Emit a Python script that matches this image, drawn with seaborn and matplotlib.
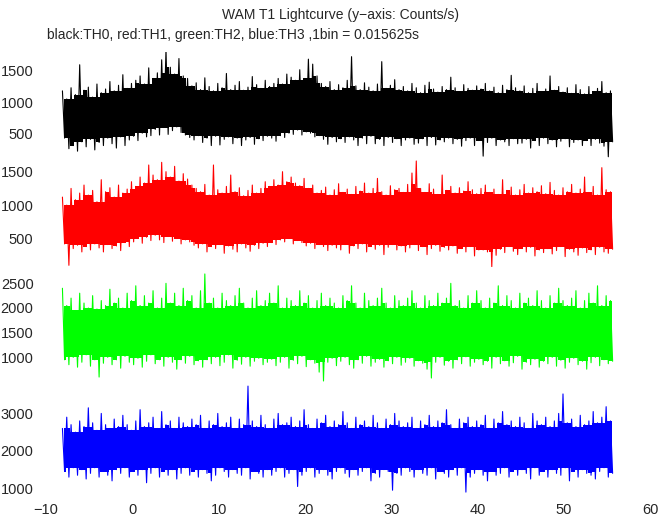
"""
WAM T1 lightcurve: four energy channels (TH0..TH3) stacked on a shared time axis.

Each channel is stored as an upper and a lower envelope on 0.5 s bins
(max/min of the raw 1/64 s samples). The envelope is drawn as a zig-zag
line over a filled core, which at this scale looks like the dense raw lightcurve.
"""

import numpy as np
import pandas as pd
import matplotlib
matplotlib.use("Agg")
import matplotlib.pyplot as plt
import seaborn as sns

# ── Data ──────────────────────────────────────────────────────────────────────

T_START = -8.1     # s, first bin
BIN_WIDTH = 0.5    # s, envelope bin

TH0_HIGH = [
    1180, 1050, 1230, 1120, 1600, 1190, 1240, 1080, 1290, 1150, 1210, 1330, 1180, 1270, 1440, 1220,
    1300, 1350, 1420, 1290, 1550, 1380, 1470, 1680, 1840, 1560, 1450, 1700, 1420, 1380, 1260, 1310,
    1200, 1390, 1250, 1180, 1300, 1230, 1460, 1200, 1270, 1330, 1190, 1240, 1410, 1280, 1220, 1350,
    1250, 1300, 1380, 1290, 1450, 1400, 1350, 1520, 1380, 1690, 1610, 1420, 1300, 1250, 1330, 1200,
    1280, 1230, 1350, 1730, 1260, 1200, 1310, 1240, 1180, 1290, 1650, 1220, 1270, 1360, 1200, 1250,
    1180, 1300, 1230, 1150, 1270, 1320, 1210, 1160, 1250, 1200, 1400, 1230, 1170, 1280, 1220, 1190,
    1260, 1210, 1300, 1180, 1240, 1150, 1270, 1200, 1430, 1230, 1180, 1260, 1150, 1220, 1300, 1170,
    1210, 1420, 1190, 1250, 1160, 1230, 1140, 1280, 1200, 1130, 1250, 1170, 1220, 1330, 1150, 1180,
]
TH0_LOW = [
    420, 250, 300, 210, 360, 280, 400, 230, 350, 300, 420, 330, 260, 440, 300, 390,
    450, 380, 500, 440, 460, 560, 470, 590, 480, 540, 600, 510, 470, 430, 390, 460,
    350, 420, 300, 450, 310, 400, 440, 330, 420, 300, 390, 430, 320, 410, 380, 450,
    420, 370, 460, 430, 500, 480, 550, 470, 520, 500, 440, 460, 400, 320, 430, 360,
    410, 350, 440, 390, 300, 420, 330, 450, 330, 400, 300, 430, 350, 410, 300, 390,
    420, 320, 340, 410, 300, 430, 310, 390, 360, 420, 330, 400, 290, 380, 420, 300,
    380, 130, 350, 420, 300, 390, 360, 300, 410, 330, 340, 400, 260, 380, 300, 420,
    330, 390, 280, 370, 410, 280, 350, 390, 300, 380, 300, 400, 340, 290, 120, 360,
]

TH1_HIGH = [
    1120, 1000, 1250, 1080, 1180, 1300, 1150, 1220, 1050, 1380, 1200, 1260, 1120, 1300, 1180, 1240,
    1350, 1280, 1420, 1330, 1600, 1450, 1380, 1640, 1500, 1420, 1580, 1360, 1470, 1390, 1300, 1250,
    1200, 1310, 1150, 1600, 1230, 1180, 1280, 1450, 1200, 1260, 1140, 1220, 1300, 1180, 1250, 1350,
    1280, 1380, 1300, 1500, 1350, 1420, 1330, 1290, 1400, 1250, 1300, 1180, 1220, 1270, 1150, 1230,
    1320, 1190, 1240, 1160, 1280, 1210, 1330, 1180, 1250, 1400, 1200, 1150, 1290, 1230, 1250, 1190,
    1310, 1480, 1660, 1250, 1190, 1320, 1240, 1160, 1450, 1220, 1280, 1180, 1260, 1210, 1350, 1230,
    1170, 1250, 1300, 1190, 1240, 1160, 1380, 1220, 1270, 1150, 1230, 1310, 1180, 1260, 1200, 1290,
    1170, 1340, 1220, 1150, 1260, 1200, 1310, 1180, 1240, 1420, 1190, 1280, 1150, 1560, 1230, 1200,
]
TH1_LOW = [
    420, 100, 350, 400, 300, 380, 330, 420, 360, 300, 410, 350, 390, 320, 440, 380,
    450, 500, 430, 520, 470, 550, 480, 440, 530, 460, 500, 420, 480, 450, 400, 360,
    420, 300, 380, 350, 410, 280, 390, 340, 300, 420, 360, 310, 400, 350, 430, 380,
    440, 410, 480, 450, 500, 420, 470, 440, 390, 430, 350, 410, 380, 320, 400, 360,
    330, 410, 280, 390, 350, 420, 300, 380, 340, 400, 260, 370, 410, 330, 390, 300,
    360, 410, 320, 380, 260, 350, 400, 310, 370, 330, 390, 280, 350, 300, 380, 240,
    330, 330, 300, 80, 250, 340, 290, 380, 310, 260, 350, 300, 370, 240, 330, 290,
    350, 270, 320, 380, 230, 340, 300, 250, 360, 290, 330, 260, 370, 300, 280, 340,
]

TH2_HIGH = [
    2400, 2050, 2200, 1950, 2300, 2100, 2000, 2250, 1980, 2150, 2050, 2380, 2100, 2200, 2000, 2300,
    2150, 2450, 2050, 2250, 2100, 2350, 2000, 2200, 2500, 2100, 2300, 2050, 2400, 2150, 2250, 2000,
    2350, 2690, 2100, 2200, 2000, 2300, 2150, 2050, 2250, 2400, 2100, 2000, 2200, 2350, 2050, 2150,
    2300, 2100, 2450, 2000, 2200, 2150, 2050, 2350, 2100, 2250, 2000, 2150, 2300, 2050, 2200, 2100,
    2000, 2250, 2150, 2450, 2100, 2000, 2300, 2150, 2050, 2200, 2400, 2100, 2000, 2250, 2150, 2050,
    2200, 2350, 2100, 2000, 2250, 2150, 2050, 2300, 2100, 2200, 2500, 2050, 2150, 2000, 2250, 2100,
    2350, 2150, 2000, 2200, 2100, 2450, 2050, 2250, 2150, 2000, 2300, 2100, 2200, 2050, 2350, 2150,
    2000, 2250, 2100, 2400, 2150, 2050, 2200, 2350, 2000, 2150, 2300, 2100, 2450, 2050, 2250, 2150,
]
TH2_LOW = [
    950, 850, 1000, 800, 900, 1050, 820, 950, 600, 880, 1000, 850, 950, 780, 1020, 900,
    850, 980, 800, 920, 1050, 870, 950, 820, 1000, 900, 760, 950, 880, 1020, 850, 930,
    800, 950, 870, 1000, 830, 900, 1050, 780, 940, 860, 1000, 820, 920, 980, 850, 900,
    960, 830, 900, 1000, 780, 940, 870, 1020, 810, 950, 880, 700, 520, 900, 980, 830,
    920, 1000, 850, 780, 950, 880, 1020, 820, 900, 960, 800, 930, 870, 1000, 840, 900,
    980, 820, 930, 880, 760, 580, 900, 1000, 840, 920, 780, 950, 870, 1010, 820, 900,
    960, 850, 920, 780, 1000, 870, 930, 820, 890, 1020, 760, 900, 850, 960, 800, 920,
    870, 1000, 820, 940, 780, 900, 980, 850, 920, 760, 890, 1000, 830, 950, 870, 920,
]

TH3_HIGH = [
    2600, 2900, 2700, 2500, 2800, 2650, 3150, 2750, 2550, 3000, 2700, 2600, 2850, 2650, 2950, 2700,
    2550, 2800, 3100, 2650, 2750, 2900, 2600, 3050, 2700, 2800, 2600, 2900, 2750, 2650, 2850, 2700,
    2950, 2600, 2800, 2700, 3000, 2650, 2750, 2900, 2600, 2850, 2700, 3730, 2800, 2650, 2950, 2700,
    2600, 2850, 3000, 2700, 2750, 2900, 2650, 2800, 3100, 2700, 2600, 2850, 2750, 2950, 2650, 2800,
    2700, 3050, 2750, 2600, 2900, 2700, 2800, 2650, 2950, 2750, 2600, 2850, 2700, 3000, 2800, 2650,
    2750, 2900, 2600, 2800, 2700, 2950, 2650, 2800, 2750, 3100, 2700, 2600, 2850, 2750, 2900, 2650,
    2800, 2700, 2950, 2600, 2850, 2750, 3050, 2700, 2800, 2650, 2900, 2750, 2600, 3000, 2800, 2700,
    2900, 2650, 2800, 3000, 3520, 2750, 2850, 2650, 2950, 2700, 2800, 3050, 2750, 2900, 3180, 2800,
]
TH3_LOW = [
    1450, 1300, 1550, 1350, 1500, 1250, 1400, 1550, 1300, 1450, 1350, 1200, 1500, 1400, 1550, 1300,
    1450, 1350, 1500, 1150, 1400, 1550, 1300, 1450, 1350, 1500, 1250, 1400, 1550, 1350, 1450, 1300,
    1500, 1400, 1200, 1350, 1550, 1450, 1300, 1500, 1400, 1350, 1550, 1250, 1450, 1400, 1300, 1500,
    1350, 1450, 1550, 1300, 1400, 1500, 1050, 1350, 1450, 1550, 1300, 1400, 1500, 1350, 1250, 1450,
    1550, 1400, 1300, 1500, 1350, 1450, 1550, 1200, 1400, 1300, 1500, 1450, 950, 1400, 1350, 1550,
    1450, 1300, 1500, 1400, 1350, 1550, 1250, 1450, 1400, 1300, 1500, 1350, 1550, 900, 1300, 1400,
    1500, 1350, 1200, 1450, 1350, 1400, 1550, 1300, 1450, 1350, 1500, 1400, 1250, 1550, 1350, 1450,
    1300, 1500, 1400, 1350, 1550, 1200, 1450, 1300, 1500, 1400, 1350, 1250, 1450, 1550, 1300, 1400,
]

CHANNELS = ["TH0", "TH1", "TH2", "TH3"]
ENVELOPES = {
    "TH0": (TH0_HIGH, TH0_LOW),
    "TH1": (TH1_HIGH, TH1_LOW),
    "TH2": (TH2_HIGH, TH2_LOW),
    "TH3": (TH3_HIGH, TH3_LOW),
}
Y_TICKS = {
    "TH0": [500, 1000, 1500],
    "TH1": [500, 1000, 1500],
    "TH2": [1000, 1500, 2000, 2500],
    "TH3": [1000, 2000, 3000],
}
X_TICKS = [-10, 0, 10, 20, 30, 40, 50, 60]

TITLE = "WAM T1 Lightcurve (y\u2212axis: Counts/s)"
SUBTITLE = "black:TH0, red:TH1, green:TH2, blue:TH3 ,1bin = 0.015625s"

# ── Style / layout ────────────────────────────────────────────────────────────

COLORS = {"TH0": "#000000", "TH1": "#ff0000", "TH2": "#00ff00", "TH3": "#0000ff"}
Y_LIMITS = {"TH0": (100, 1805), "TH1": (75, 1690), "TH2": (500, 2750), "TH3": (770, 3760)}
# axes boxes in figure fraction: left, bottom, width, height
PANEL_BOX = {
    "TH0": (0.0685, 0.6932, 0.899, 0.2058),
    "TH1": (0.0685, 0.4816, 0.899, 0.2097),
    "TH2": (0.0685, 0.2583, 0.899, 0.2155),
    "TH3": (0.0685, 0.0350, 0.899, 0.2175),
}

sns.set_style("white")
plt.rcParams["font.family"] = ["Liberation Sans", "DejaVu Sans"]
plt.rcParams["path.simplify"] = False


def zigzag_frame(channel: str) -> pd.DataFrame:
    """Interleave the high/low envelope into one time-ordered series."""
    high, low = ENVELOPES[channel]
    t_high = T_START + BIN_WIDTH * np.arange(len(high))
    t_low = t_high + BIN_WIDTH / 2
    return pd.DataFrame({
        "time": np.column_stack([t_high, t_low]).ravel(),
        "rate": np.column_stack([high, low]).ravel(),
    })


fig = plt.figure(figsize=(6.72, 5.15), dpi=100)

for ch in CHANNELS:
    ax = fig.add_axes(PANEL_BOX[ch])
    high, low = (pd.Series(v) for v in ENVELOPES[ch])
    # solid core: the range that the neighbouring bins reach as well,
    # drawn as steps so the edge stays ragged like the raw curve
    core_hi = high.rolling(3, center=True, min_periods=1).min()
    core_lo = low.rolling(3, center=True, min_periods=1).max()
    t_mid = T_START + BIN_WIDTH * np.arange(len(high)) + BIN_WIDTH / 4
    ax.fill_between(t_mid, core_lo, core_hi, step="mid", color=COLORS[ch], lw=0)
    sns.lineplot(data=zigzag_frame(ch), x="time", y="rate", color=COLORS[ch],
                 lw=0.8, estimator=None, sort=False, ax=ax)

    ax.set_xlim(-10, 60)
    ax.set_ylim(*Y_LIMITS[ch])
    ax.set_yticks(Y_TICKS[ch])
    ax.set_xticks(X_TICKS)
    ax.set_xlabel("")
    ax.set_ylabel("")
    ax.tick_params(axis="both", length=0, labelsize=10.5, pad=9)
    ax.tick_params(axis="x", pad=4)
    if ch != "TH3":
        ax.set_xticklabels([])
    sns.despine(ax=ax, left=True, bottom=True)
    ax.patch.set_alpha(0)

fig.text(0.506, 1 - 15 / 515, TITLE, ha="center", va="center", fontsize=10)
fig.text(47 / 672, 1 - 35 / 515, SUBTITLE, ha="left", va="center", fontsize=10)

fig.savefig("out.png", dpi=100)
plt.close(fig)
